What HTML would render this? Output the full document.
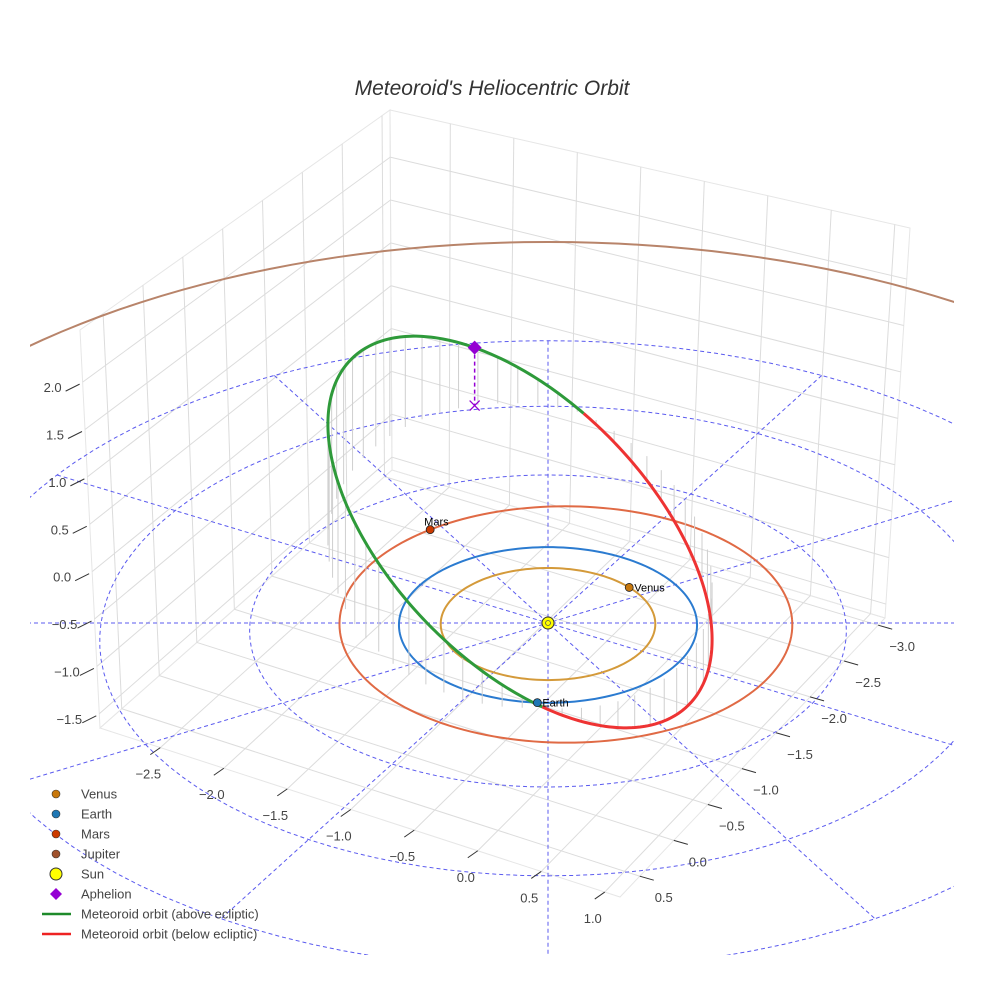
<!DOCTYPE html>
<html><head><meta charset="utf-8"><style>
body{margin:0;background:#fff;}
svg{display:block;font-family:"Liberation Sans",sans-serif;}
</style></head><body>
<svg id="chart" width="984" height="984" viewBox="0 0 984 984" xmlns="http://www.w3.org/2000/svg">
<defs><clipPath id="scene"><rect x="30" y="40" width="924" height="915"/></clipPath></defs>
<text x="492" y="95" text-anchor="middle" font-size="21" font-style="italic" fill="#333">Meteoroid's Heliocentric Orbit</text>
<g id="walls"></g>
<g id="plot" clip-path="url(#scene)"></g>
<g id="axes"></g>
<g id="legend"></g>
</svg>
<script>
// ---- data ----
const xTicks = [-2.5,-2.0,-1.5,-1.0,-0.5,0.0,0.5,1.0];
const yTicks = [-3.0,-2.5,-2.0,-1.5,-1.0,-0.5,0.0,0.5];
const zTicks = [-1.5,-1.0,-0.5,0.0,0.5,1.0,1.5,2.0];
const planetNames = ["Venus","Earth","Mars","Jupiter"];
const planetRadii = [0.72,1.0,1.52,5.2];
const planetOffsetX = [0,0,0.12,0];
const planetOffsetY = [0,0,0.04,0.4];
const planetAngles = [40,-94,128,null];
const planetColors = ["#d49a3a","#2b7bd0","#e06a45","#b8846a"];
const markerColors = ["#c8780c","#1f77b4","#cc3a00","#a0522d"];
const ringRadii = [2,3,4];
const radialAngles = [0,30,60,90,120,150];
const meteorSplit = [212,58];      // degrees where orbit crosses ecliptic
const meteorAphelionT = [25];
const meteorMaxHeight = [120,70];  // above, below

// ---- geometry ----
const NS="http://www.w3.org/2000/svg";
function mk(tag,attrs,parent){const e=document.createElementNS(NS,tag);for(const k in attrs)e.setAttribute(k,attrs[k]);parent.appendChild(e);return e;}
const lerp=(a,b,f)=>[a[0]+(b[0]-a[0])*f,a[1]+(b[1]-a[1])*f];
const L=[100,728],BK=[392,470],R=[885,618],F=[620,897];
const TL=[80,330],TB=[390,110],TR=[910,228];
const xR=[-2.975,1.12], yR=[0.79,-3.10], zR=[-1.65,2.55];
const fx=v=>(v-xR[0])/(xR[1]-xR[0]);
const fy=v=>(v-yR[0])/(yR[1]-yR[0]);
const fz=v=>(v-zR[0])/(zR[1]-zR[0]);
const CX=548,CY=623,KX=149,KY=77.8,PP=0.0256;
function proj(X,Y){const s=1/(1+PP*Y);return [CX+KX*X*s, CY-KY*Y*s];}
function plane(r,deg,ox,oy){const a=deg*Math.PI/180;return proj((ox||0)+r*Math.cos(a),(oy||0)+r*Math.sin(a));}

const walls=document.getElementById('walls');
const plot=document.getElementById('plot');
const axes=document.getElementById('axes');
const legend=document.getElementById('legend');
const gridCol="#dcdcdc";

mk('polygon',{points:[L,BK,R,F].map(p=>p.join(',')).join(' '),fill:'none',stroke:'#e6e6e6'},walls);
mk('polygon',{points:[L,TL,TB,BK].map(p=>p.join(',')).join(' '),fill:'none',stroke:'#e6e6e6'},walls);
mk('polygon',{points:[BK,TB,TR,R].map(p=>p.join(',')).join(' '),fill:'none',stroke:'#e6e6e6'},walls);
xTicks.forEach(v=>{const f=fx(v);
 const a=lerp(L,F,f),b=lerp(BK,R,f),c=lerp(TB,TR,f);
 const l=mk('line',{x1:a[0],y1:a[1],x2:b[0],y2:b[1],stroke:gridCol},walls);
 
 const w=mk('line',{x1:b[0],y1:b[1],x2:c[0],y2:c[1],stroke:gridCol},walls);
 
});
yTicks.forEach(v=>{const f=fy(v);
 const a=lerp(F,R,f),b=lerp(L,BK,f),c=lerp(TL,TB,f);
 const l=mk('line',{x1:a[0],y1:a[1],x2:b[0],y2:b[1],stroke:gridCol},walls);
 
 const w=mk('line',{x1:b[0],y1:b[1],x2:c[0],y2:c[1],stroke:gridCol},walls);
 
});
zTicks.forEach(v=>{const f=fz(v);
 const a=lerp(L,TL,f),b=lerp(BK,TB,f),c=lerp(R,TR,f);
 const l=mk('polyline',{points:[a,b,c].map(p=>p.join(',')).join(' '),fill:'none',stroke:gridCol},walls);
 
});
xTicks.forEach(v=>{const p=lerp(L,F,fx(v));
 mk('line',{x1:p[0],y1:p[1],x2:p[0]-10,y2:p[1]+7,stroke:'#333'},axes);
 const t=mk('text',{x:p[0]-12,y:p[1]+31,'text-anchor':'middle','font-size':13,fill:'#444'},axes);
 t.textContent=v.toFixed(1).replace('-','\u2212');
 
});
yTicks.forEach(v=>{const p=lerp(F,R,fy(v));
 mk('line',{x1:p[0],y1:p[1],x2:p[0]+14,y2:p[1]+4,stroke:'#333'},axes);
 const t=mk('text',{x:p[0]+24,y:p[1]+26,'text-anchor':'middle','font-size':13,fill:'#444'},axes);
 t.textContent=v.toFixed(1).replace('-','\u2212');
 
});
zTicks.forEach(v=>{const p=lerp(L,TL,fz(v));
 mk('line',{x1:p[0]-3,y1:p[1]+2,x2:p[0]-17,y2:p[1]+9,stroke:'#333'},axes);
 const t=mk('text',{x:p[0]-30,y:p[1]+10,'text-anchor':'middle','font-size':13,fill:'#444'},axes);
 t.textContent=v.toFixed(1).replace('-','\u2212');
 
});

ringRadii.forEach(r=>{const pts=[];for(let d=0;d<=360;d+=3)pts.push(plane(r,d));
 const e=mk('polyline',{points:pts.map(p=>p.join(',')).join(' '),fill:'none',stroke:'#5b5bef','stroke-width':1,'stroke-dasharray':'4,3'},plot);
 
});
radialAngles.forEach(a=>{const p=plane(4,a),q=plane(4,a+180);
 const l=mk('line',{x1:p[0],y1:p[1],x2:q[0],y2:q[1],stroke:'#5b5bef','stroke-width':1,'stroke-dasharray':'4,3'},plot);
 
});
planetRadii.forEach((r,i)=>{const pts=[];const end=i===3?180:360;for(let d=0;d<=end;d+=2)pts.push(plane(r,d,planetOffsetX[i],planetOffsetY[i]));
 const o=mk('polyline',{points:pts.map(p=>p.join(',')).join(' '),fill:'none',stroke:planetColors[i],'stroke-width':2},plot);
 
});
const MC=[520,532],MA=[-120,-195],MB=[150,-18];
function met(t){const a=t*Math.PI/180;return [MC[0]+MA[0]*Math.cos(a)+MB[0]*Math.sin(a),MC[1]+MA[1]*Math.cos(a)+MB[1]*Math.sin(a)];}
const spanUp=360-meteorSplit[0]+meteorSplit[1], spanDn=meteorSplit[0]-meteorSplit[1];
function height(t){let d=((t-meteorSplit[0])%360+360)%360;
 if(d<=spanUp)return meteorMaxHeight[0]*Math.sin(d/spanUp*Math.PI);
 return -meteorMaxHeight[1]*Math.sin((d-spanUp)/spanDn*Math.PI);}
for(let t=meteorSplit[0];t<meteorSplit[0]+360;t+=6){const p=met(t),h=height(t);
 const d=mk('line',{x1:p[0],y1:p[1],x2:p[0],y2:p[1]+(h>0?h:h*0.8),stroke:'#cfcfcf','stroke-width':1},plot);
 
}
const gPts=[],rPts=[];
for(let t=meteorSplit[0];t<=meteorSplit[0]+spanUp;t+=1)gPts.push(met(t));
for(let t=meteorSplit[1];t<=meteorSplit[0];t+=1)rPts.push(met(t));
const rl=mk('polyline',{points:rPts.map(p=>p.join(',')).join(' '),fill:'none',stroke:'#ee3333','stroke-width':3},plot);

const gl=mk('polyline',{points:gPts.map(p=>p.join(',')).join(' '),fill:'none',stroke:'#2e9a3a','stroke-width':3},plot);

const ap=met(meteorAphelionT[0]),ah=height(meteorAphelionT[0]);
mk('line',{x1:ap[0],y1:ap[1],x2:ap[0],y2:ap[1]+ah,stroke:'#9400d3','stroke-width':1.5,'stroke-dasharray':'4,3'},plot);
const ax=mk('path',{d:`M${ap[0]-5},${ap[1]+ah-5}L${ap[0]+5},${ap[1]+ah+5}M${ap[0]+5},${ap[1]+ah-5}L${ap[0]-5},${ap[1]+ah+5}`,stroke:'#9400d3','stroke-width':1.3},plot);

const ad=mk('path',{d:`M${ap[0]},${ap[1]-7}L${ap[0]+7},${ap[1]}L${ap[0]},${ap[1]+7}L${ap[0]-7},${ap[1]}Z`,fill:'#9400d3'},plot);

planetAngles.forEach((a,i)=>{if(a===null)return;const p=plane(planetRadii[i],a,planetOffsetX[i],planetOffsetY[i]);
 const c=mk('circle',{cx:p[0],cy:p[1],r:4,fill:markerColors[i],stroke:'#222','stroke-width':0.8},plot);
 
 const lbl=mk('text',{x:i===2?p[0]-6:p[0]+5,y:i===2?p[1]-4:p[1]+4,'font-size':11,fill:'#000'},plot);
 lbl.textContent=planetNames[i];
 
});
const sun=mk('circle',{cx:CX,cy:CY,r:6,fill:'#ffff00',stroke:'#333','stroke-width':1},plot);

mk('circle',{cx:CX,cy:CY,r:2.5,fill:'none',stroke:'#555','stroke-width':0.8},plot);

const legNames=["Venus","Earth","Mars","Jupiter","Sun","Aphelion","Meteoroid orbit (above ecliptic)","Meteoroid orbit (below ecliptic)"];
legNames.forEach((n,i)=>{const y=794+i*20;
 const g=mk('g',{},legend);
 
 if(i<4)mk('circle',{cx:56,cy:y,r:4,fill:markerColors[i],stroke:'#333','stroke-width':0.6},g);
 else if(i===4)mk('circle',{cx:56,cy:y,r:6,fill:'#ffff00',stroke:'#333','stroke-width':1},g);
 else if(i===5)mk('path',{d:`M56,${y-6}L62,${y}L56,${y+6}L50,${y}Z`,fill:'#9400d3'},g);
 else mk('line',{x1:42,y1:y,x2:71,y2:y,stroke:i===6?'#1e8a2a':'#ee2222','stroke-width':2.5},g);
 const t=mk('text',{x:81,y:y+4.5,'font-size':13,fill:'#444'},g);t.textContent=n;
});
</script>
</body></html>
